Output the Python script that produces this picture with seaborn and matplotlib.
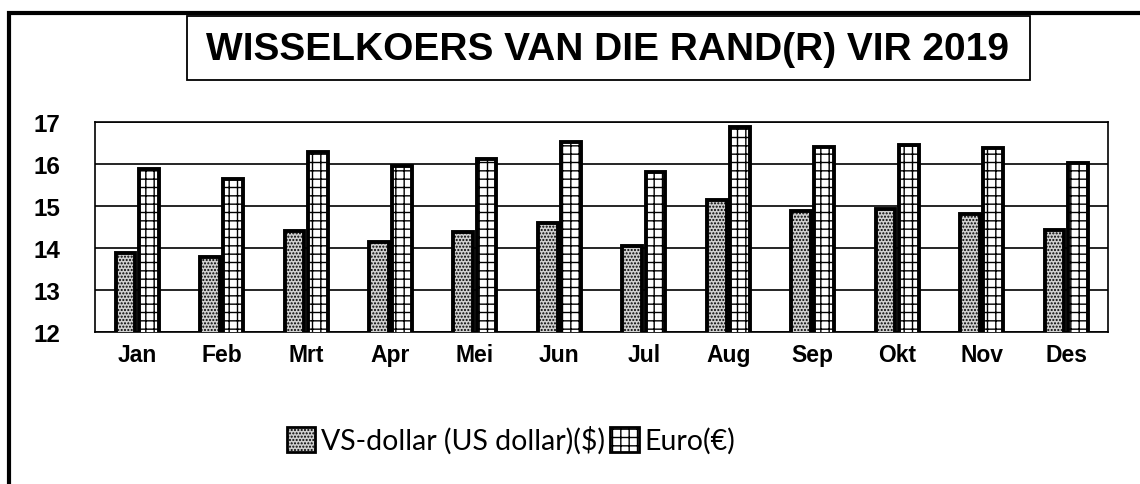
import numpy as np
import matplotlib
matplotlib.use("Agg")
import matplotlib.pyplot as plt
import pandas as pd
import seaborn as sns
from matplotlib.patches import Patch, Rectangle

maande = ["Jan", "Feb", "Mrt", "Apr", "Mei", "Jun",
          "Jul", "Aug", "Sep", "Okt", "Nov", "Des"]
usd = [13.88, 13.78, 14.40, 14.15, 14.39, 14.59,
       14.05, 15.15, 14.87, 14.93, 14.82, 14.44]
euro = [15.88, 15.64, 16.28, 15.95, 16.12, 16.52,
        15.80, 16.87, 16.40, 16.45, 16.38, 16.02]
reekse = ["VS-dollar (US dollar)($)", "Euro(€)"]

df = pd.DataFrame({
    "maand": maande * 2,
    "koers": usd + euro,
    "valuta": [reekse[0]] * 12 + [reekse[1]] * 12,
})

sns.set_style("white")
plt.rcParams["font.family"] = ["Liberation Sans", "DejaVu Sans"]
plt.rcParams["text.color"] = "black"
plt.rcParams["xtick.color"] = "black"
plt.rcParams["ytick.color"] = "black"
plt.rcParams["hatch.linewidth"] = 1.0
plt.rcParams["hatch.color"] = "black"

fig = plt.figure(figsize=(11.4, 4.85), dpi=100)
ax = fig.add_axes([0.0833, 0.3134, 0.8889, 0.433])

styles = [dict(facecolor="#d0d0d0", hatch="....."),
          dict(facecolor="white", hatch="++")]

sns.barplot(data=df, x="maand", y="koers", hue="valuta", order=maande,
            hue_order=reekse, width=0.55, gap=0.15, legend=False,
            palette=["#d0d0d0", "white"], ax=ax)

for cont, st in zip(ax.containers, styles):
    for bar in cont:
        bar.set_facecolor(st["facecolor"])
        bar.set_hatch(st["hatch"])
        bar.set_edgecolor("black")
        bar.set_linewidth(2.8)
        bar.set_zorder(3)

ax.set_ylim(12, 17)
ax.set_yticks(range(12, 18))
ax.yaxis.grid(True, color="black", linewidth=1.2, zorder=0)
ax.set_axisbelow(True)
ax.set_xlabel("")
ax.set_ylabel("")
for s in ax.spines.values():
    s.set_color("black")
    s.set_linewidth(1.2)
ax.tick_params(axis="y", length=0, pad=25, labelsize=17.5)
ax.tick_params(axis="x", length=0, pad=8, labelsize=16.5)
for lbl in ax.get_yticklabels() + ax.get_xticklabels():
    lbl.set_fontweight("bold")

# outer frame (only top and left visible)
fig.patches.append(Rectangle((0.008, -0.2), 1.2, 0.2 + 0.972, transform=fig.transFigure,
                             fill=False, edgecolor="black", linewidth=3, zorder=0))
# title box
fig.patches.append(Rectangle((187 / 1140, 1 - 81 / 485), (1030 - 187) / 1140, 64 / 485,
                             transform=fig.transFigure, fill=False,
                             edgecolor="black", linewidth=1.3))
fig.text(608 / 1140, 1 - 50 / 485, "WISSELKOERS VAN DIE RAND(R) VIR 2019",
         ha="center", va="center", fontsize=28, fontweight="bold")

handles = [Patch(facecolor=st["facecolor"], hatch=st["hatch"], edgecolor="black",
                 linewidth=2) for st in styles]
fig.legend(handles, reekse, loc="center", bbox_to_anchor=(511 / 1140, 1 - 441 / 485),
           ncol=2, frameon=False, handlelength=1.0, handleheight=1.0,
           handletextpad=0.2, columnspacing=0.2,
           prop={"family": ["Lato", "DejaVu Sans"], "size": 20.5})

fig.savefig("out.png", dpi=100)
